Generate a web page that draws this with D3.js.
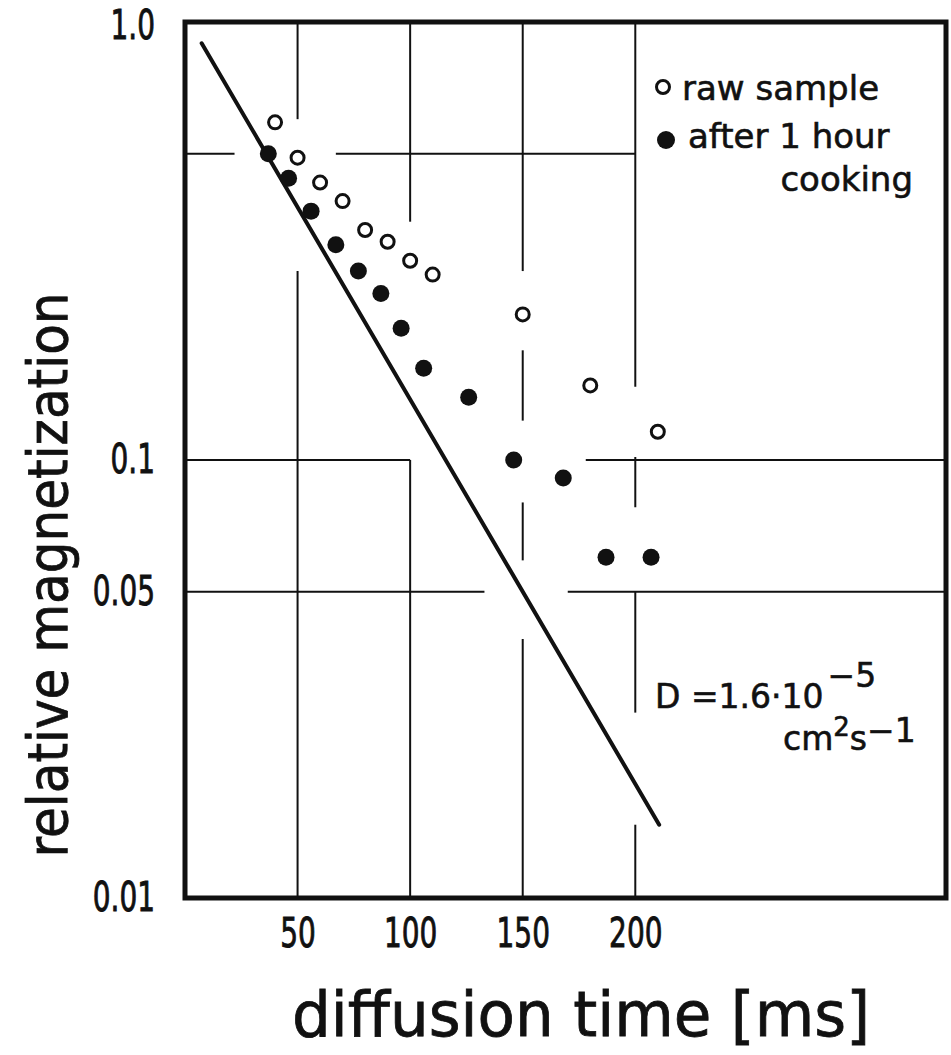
<!DOCTYPE html>
<html>
<head>
<meta charset="utf-8">
<script src="https://cdn.jsdelivr.net/npm/d3@7"></script>
<style>
  html, body { margin: 0; padding: 0; background: #fff; }
  svg { display: block; }
  text { font-family: "DejaVu Sans", sans-serif; fill: #111; }
</style>
</head>
<body>
<div id="chart"></div>
<script>
// relative magnetization vs diffusion time (log y)

// raw sample (open circles)
const rawTime = [40, 50, 60, 70, 80, 90, 100, 110, 150, 180, 210];
const rawMag = [0.59, 0.49, 0.43, 0.39, 0.335, 0.315, 0.285, 0.265, 0.215, 0.148, 0.116];

// after 1 hour cooking (filled circles)
const cookedTime = [37, 46, 56, 67, 77, 87, 96, 106, 126, 146, 168, 187, 207];
const cookedMag = [0.50, 0.44, 0.37, 0.31, 0.27, 0.24, 0.20, 0.162, 0.139, 0.100, 0.091, 0.060, 0.060];

// D = 1.6e-5 cm2/s line, end points
const fitTime = [7.4, 210.6];
const fitMag = [0.894, 0.0147];

const xTicks = [50, 100, 150, 200];
const yTicks = [1.0, 0.1, 0.05, 0.01];
const yTickLabels = ["1.0", "0.1", "0.05", "0.01"];

// grid lines are broken around the points and labels: [value, from, to]
const vGrid = [
    [50, 1, 0.6], [50, 0.27, 0.01],
    [100, 1, 0.35], [100, 0.1, 0.01],
    [150, 1, 0.27], [150, 0.178, 0.123], [150, 0.08, 0.059], [150, 0.039, 0.01],
    [200, 1, 0.147], [200, 0.1016, 0.078], [200, 0.05, 0.0265], [200, 0.0147, 0.01]
];
const hGrid = [
    [0.5, 0, 22], [0.5, 67, 200],
    [0.1, 0, 100], [0.1, 178, 338],
    [0.05, 0, 133], [0.05, 170, 338]
];

const W = 951, H = 1055;
const INK = "#111";

const svg = d3.select("#chart").append("svg")
    .attr("width", W)
    .attr("height", H);

const x = d3.scaleLinear().domain([0, 338]).range([185, 946]);
const y = d3.scaleLog().domain([0.01, 1]).range([898, 22]);

// grid
svg.append("g").selectAll("line")
    .data(vGrid)
    .join("line")
    .attr("x1", d => x(d[0])).attr("x2", d => x(d[0]))
    .attr("y1", d => y(d[1])).attr("y2", d => y(d[2]))
    .attr("stroke", INK).attr("stroke-width", 2);

svg.append("g").selectAll("line")
    .data(hGrid)
    .join("line")
    .attr("y1", d => y(d[0])).attr("y2", d => y(d[0]))
    .attr("x1", d => x(d[1])).attr("x2", d => x(d[2]))
    .attr("stroke", INK).attr("stroke-width", 2);

// frame
svg.append("rect")
    .attr("x", x(0)).attr("y", y(1))
    .attr("width", x(338) - x(0))
    .attr("height", y(0.01) - y(1))
    .attr("fill", "none")
    .attr("stroke", INK)
    .attr("stroke-width", 5);

// axes (labels only)
const TICK_SCALE = 0.7;
const xAxis = svg.append("g")
    .attr("transform", `translate(0,${y(0.01)})`)
    .call(d3.axisBottom(x).tickValues(xTicks).tickSize(0).tickPadding(21).tickFormat(d3.format("d")));
xAxis.select(".domain").remove();
xAxis.selectAll("text")
    .attr("font-family", "DejaVu Sans, sans-serif")
    .attr("font-size", 40)
    .attr("fill", INK)
    .attr("stroke", INK)
    .attr("stroke-width", 0.9)
    .attr("transform", `scale(${TICK_SCALE},1)`);

const yAxis = svg.append("g")
    .attr("transform", `translate(${x(0)},0)`)
    .call(d3.axisLeft(y).tickValues(yTicks).tickSize(0).tickFormat((d, i) => yTickLabels[i]));
yAxis.select(".domain").remove();
yAxis.selectAll("text")
    .attr("font-family", "DejaVu Sans, sans-serif")
    .attr("font-size", 40)
    .attr("fill", INK)
    .attr("stroke", INK)
    .attr("stroke-width", 0.9)
    .attr("x", -30 / TICK_SCALE)
    .attr("dy", d => d === 1 ? "0.42em" : "0.32em")
    .attr("transform", `scale(${TICK_SCALE},1)`);

// fitted line
const line = d3.line()
    .x(d => x(d[0]))
    .y(d => y(d[1]));
svg.append("path")
    .datum(d3.zip(fitTime, fitMag))
    .attr("d", line)
    .attr("fill", "none")
    .attr("stroke", INK)
    .attr("stroke-width", 4)
    .attr("stroke-linecap", "round");

// points
svg.append("g").selectAll("circle")
    .data(d3.zip(rawTime, rawMag))
    .join("circle")
    .attr("cx", d => x(d[0]))
    .attr("cy", d => y(d[1]))
    .attr("r", 6.5)
    .attr("fill", "#fff")
    .attr("stroke", INK)
    .attr("stroke-width", 3);

svg.append("g").selectAll("circle")
    .data(d3.zip(cookedTime, cookedMag))
    .join("circle")
    .attr("cx", d => x(d[0]))
    .attr("cy", d => y(d[1]))
    .attr("r", 8.5)
    .attr("fill", INK);

// legend
const legend = svg.append("g")
    .attr("stroke", INK)
    .attr("stroke-width", 0.6);
legend.append("circle")
    .attr("cx", 663).attr("cy", 87).attr("r", 6.5)
    .attr("fill", "#fff").attr("stroke-width", 3);
legend.append("text")
    .attr("x", 682).attr("y", 100)
    .attr("font-size", 34)
    .text("raw sample");
legend.append("circle")
    .attr("cx", 666).attr("cy", 140).attr("r", 9)
    .attr("fill", INK).attr("stroke", "none");
legend.append("text")
    .attr("x", 688).attr("y", 148)
    .attr("font-size", 34)
    .text("after 1 hour");
legend.append("text")
    .attr("x", 913).attr("y", 191)
    .attr("text-anchor", "end")
    .attr("font-size", 34)
    .text("cooking");

// diffusion coefficient note
const note1 = svg.append("text")
    .attr("x", 655).attr("y", 708)
    .attr("font-size", 33)
    .attr("stroke", INK).attr("stroke-width", 0.6);
note1.append("tspan").text("D =1.6·10");
note1.append("tspan").attr("dx", 4).attr("dy", -21).text("−5");

const note2 = svg.append("text")
    .attr("x", 783).attr("y", 750)
    .attr("font-size", 33)
    .attr("stroke", INK).attr("stroke-width", 0.6);
note2.append("tspan").text("cm");
note2.append("tspan").attr("dy", -14).attr("font-size", 26).text("2");
note2.append("tspan").attr("dy", 14).text("s");
note2.append("tspan").attr("dy", -8).text("−1");

// axis titles
svg.append("text")
    .attr("transform", "translate(67,575) rotate(-90)")
    .attr("text-anchor", "middle")
    .attr("font-size", 56)
    .attr("textLength", 565)
    .attr("lengthAdjust", "spacingAndGlyphs")
    .attr("stroke", INK).attr("stroke-width", 0.8)
    .text("relative magnetization");

svg.append("text")
    .attr("x", 581).attr("y", 1036)
    .attr("text-anchor", "middle")
    .attr("font-size", 62)
    .attr("textLength", 578)
    .attr("lengthAdjust", "spacingAndGlyphs")
    .attr("stroke", INK).attr("stroke-width", 0.8)
    .text("diffusion time [ms]");
</script>
</body>
</html>
